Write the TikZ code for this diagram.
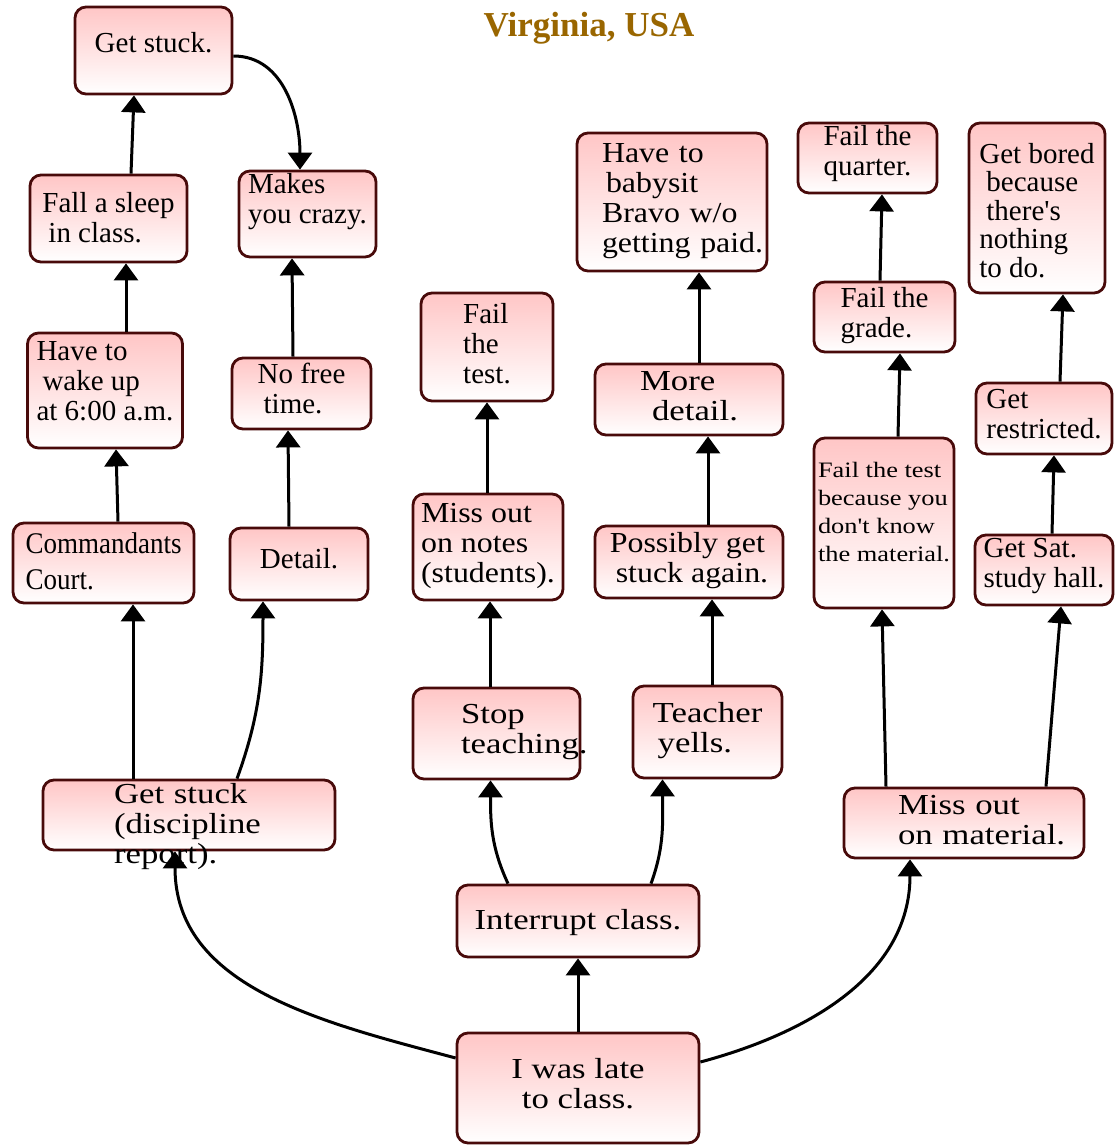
\documentclass[tikz,border=0pt]{standalone}
\usepackage{fontspec}
\setmainfont{Liberation Serif}
\newfontfamily\midfont[FakeStretch=1.1]{Liberation Serif}
\newfontfamily\widefont[FakeStretch=1.2]{Liberation Serif}
\newfontfamily\narrowfont[FakeStretch=0.9]{Liberation Serif}
\usetikzlibrary{arrows.meta,positioning,shapes}
\definecolor{boxline}{RGB}{72,10,10}
\definecolor{boxpink}{RGB}{255,198,198}
\definecolor{titlebrown}{RGB}{153,102,0}
\hyphenpenalty=10000
\tikzset{font=\fontsize{29}{30}\selectfont}
\tikzstyle{box}=[rectangle,rounded corners=11pt,draw=boxline,line width=2.8pt,top color=boxpink,bottom color=white,align=left,inner sep=0pt,text depth=0pt]
\tikzstyle{midtxt}=[font=\midfont\fontsize{29}{30}\selectfont]
\tikzstyle{widetxt}=[font=\widefont\fontsize{29}{30}\selectfont]
\tikzstyle{arr}=[-{Triangle[width=24pt,length=17pt]},line width=3pt,black]

\begin{document}
\begin{tikzpicture}[x=1pt,y=1pt]
\useasboundingbox (0,0) rectangle (1114,-1146);
\node[font=\bfseries\fontsize{35}{40}\selectfont,text=titlebrown] (title) at (589,-28) {Virginia, USA};
% left branch
\node[box,minimum width=157pt,minimum height=87pt,text height=3pt] (stuck) at (153.5,-50.5) {Get stuck.};
\node[box,minimum width=157pt,minimum height=87pt,text height=47pt] (asleep) at (108.5,-218.5) {Fall a sleep\\\hspace*{6pt}in class.};
\node[box,minimum width=137pt,minimum height=86pt,text height=18pt] (crazy) at (307.5,-214) {Makes\\you crazy.};
\node[box,minimum width=155pt,minimum height=115pt,text height=59pt] (wakeup) at (105,-390.5) {Have to\\\hspace*{6pt}wake up\\at 6:00 a.m.};
\node[box,minimum width=139pt,minimum height=71pt,text height=39pt] (nofree) at (301.5,-393.5) {No free\\\hspace*{6pt}time.};
\node[box,minimum width=181pt,minimum height=80pt,text height=52pt,font=\narrowfont\fontsize{30}{36}\selectfont] (court) at (103.5,-563) {Commandants\\Court.};
\node[box,minimum width=138pt,minimum height=72pt,text height=8pt] (detail) at (299,-564) {Detail.};
\node[box,minimum width=292pt,minimum height=70pt,text height=0pt,text depth=24pt,text width=150pt,widetxt] (disc) at (189,-815) {Get~stuck\\(discipline\\report).};
% middle branch
\node[box,minimum width=132pt,minimum height=108pt,text height=72pt] (failtest) at (487,-347) {Fail\\the\\test.};
\node[box,minimum width=150pt,minimum height=106pt,text height=70pt,midtxt] (notes) at (488,-547) {Miss out\\on notes\\(students).};
\node[box,minimum width=167pt,minimum height=91pt,text height=0pt,text depth=21pt,text width=71pt,widetxt] (stop) at (496.5,-733.5) {Stop\\teaching.};
\node[box,minimum width=149pt,minimum height=92pt,text height=40pt,widetxt] (yells) at (707.5,-732) {Teacher\\\hspace*{5pt}yells.};
\node[box,minimum width=242pt,minimum height=72pt,text height=16pt,widetxt] (intr) at (578,-921) {Interrupt class.};
\node[box,minimum width=242pt,minimum height=110pt,text height=40pt,widetxt,align=center] (late) at (578,-1088) {I was late\\to class.};
\node[box,minimum width=190pt,minimum height=138pt,text height=0pt,text depth=80pt,text width=140pt,midtxt] (babysit) at (672,-202) {Have~to\\\hspace*{4pt}babysit\\Bravo~w/o\\getting~paid.};
\node[box,minimum width=188pt,minimum height=71pt,text height=41pt,widetxt] (more) at (689,-399.5) {More\\\hspace*{12pt}detail.};
\node[box,minimum width=188pt,minimum height=72pt,text height=40pt,midtxt] (again) at (689,-562) {Possibly get\\\hspace*{6pt}stuck again.};
% right branch
\node[box,minimum width=139pt,minimum height=70pt,text height=34pt] (quarter) at (867.5,-158) {Fail the\\quarter.};
\node[box,minimum width=141pt,minimum height=70pt,text height=40pt] (grade) at (884.5,-317) {Fail the\\grade.};
\node[box,minimum width=140pt,minimum height=170pt,text height=76pt,font=\widefont\fontsize{22}{28}\selectfont] (material) at (884,-523) {Fail the test\\because you\\don't know\\the material.};
\node[box,minimum width=240pt,minimum height=70pt,text height=0pt,text depth=18pt,text width=132pt,widetxt] (missmat) at (964,-823) {Miss~out\\on~material.};
\node[box,minimum width=136pt,minimum height=170pt,text height=138pt,font=\fontsize{29}{28.5}\selectfont] (bored) at (1037,-208) {Get bored\\\hspace*{7pt}because\\\hspace*{7pt}there\textquotesingle s\\nothing\\to do.};
\node[box,minimum width=136pt,minimum height=71pt,text height=39pt] (restr) at (1044,-418.5) {Get\\restricted.};
\node[box,minimum width=138pt,minimum height=70pt,text height=34pt] (satst) at (1044,-570) {Get Sat.\\study hall.};
\path[arr]
(late) edge (intr)
([yshift=30pt]late.west) edge[out=165,in=-90] ([xshift=-14pt]disc.south)
([yshift=26pt]late.east) edge[out=15,in=-90] ([xshift=-54pt]missmat.south)
([xshift=-70pt]intr.north) edge[out=115,in=-90] ([xshift=-6pt]stop.south)
([xshift=73pt]intr.north) edge[out=70,in=-90] ([xshift=-45pt]yells.south)
([xshift=-56pt]disc.north) edge ([xshift=29.5pt]court.south)
([xshift=48pt]disc.north) edge[out=70,in=-90] ([xshift=-36pt]detail.south)
([xshift=14.5pt]court.north) edge ([xshift=11pt]wakeup.south)
([xshift=21pt]wakeup.north) edge ([xshift=17.5pt]asleep.south)
([xshift=22.5pt]asleep.north) edge ([xshift=-19.5pt]stuck.south)
([yshift=-5.5pt]stuck.east) edge[out=0,in=90] ([xshift=-7.5pt]crazy.north)
([xshift=-10pt]detail.north) edge ([xshift=-13.5pt]nofree.south)
([xshift=-8.5pt]nofree.north) edge ([xshift=-15.5pt]crazy.south)
([xshift=-6.5pt]stop.north) edge ([xshift=2pt]notes.south)
([xshift=-1pt]notes.north) edge (failtest.south)
([xshift=4.5pt]yells.north) edge ([xshift=23pt]again.south)
([xshift=19pt]again.north) edge ([xshift=19pt]more.south)
([xshift=10pt]more.north) edge ([xshift=27pt]babysit.south)
([xshift=-78pt]missmat.north) edge ([xshift=-2pt]material.south)
([xshift=82pt]missmat.north) edge ([xshift=17pt]satst.south)
([xshift=14pt]material.north) edge ([xshift=15.5pt]grade.south)
([xshift=-4.5pt]grade.north) edge ([xshift=14.5pt]quarter.south)
([xshift=8pt]satst.north) edge ([xshift=10pt]restr.south)
([xshift=16pt]restr.north) edge ([xshift=26pt]bored.south);
\end{tikzpicture}
\end{document}
